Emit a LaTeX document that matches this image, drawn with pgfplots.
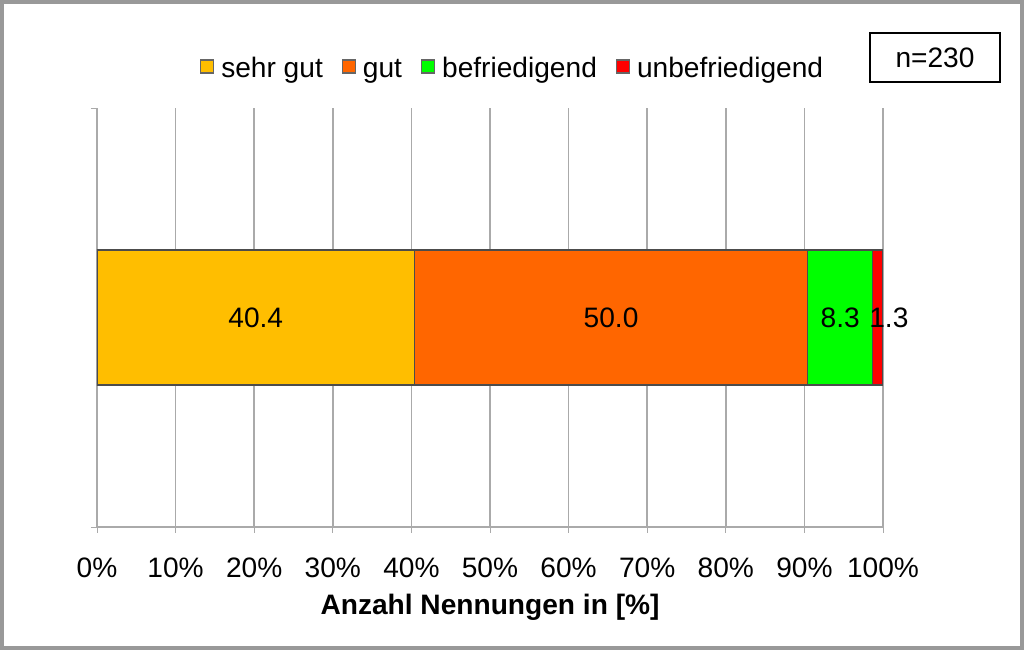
\documentclass[border=0pt]{standalone}
\usepackage{pgfplots}
\pgfplotsset{compat=1.18}
\usepackage{fontspec}
\setmainfont{Liberation Sans}

\definecolor{sehrgut}{RGB}{255,190,0}
\definecolor{gut}{RGB}{255,102,0}
\definecolor{befr}{RGB}{0,255,0}
\definecolor{unbefr}{RGB}{255,0,0}
\definecolor{gridgray}{RGB}{170,170,170}

\begin{document}
\begin{tikzpicture}
\path[use as bounding box] (0,0) rectangle (10.24,6.5);
\draw[gray!80, line width=1.2pt] (0.02,0.02) rectangle (10.22,6.48);
\begin{axis}[
    at={(0.97cm,1.23cm)}, anchor=south west,
    scale only axis, width=7.86cm, height=4.19cm,
    xbar stacked, bar width=1.35cm,
    xmin=0, xmax=100, ymin=-1, ymax=1,
    axis x line*=bottom, axis y line*=left,
    axis line style={gridgray, -},
    xtick={0,10,...,100},
    xticklabel={\pgfmathprintnumber[assume math mode=true]{\tick}\%},
    ytick={-1,1}, yticklabels={},
    tick align=outside, major tick length=0.06cm,
    tick style={gridgray},
    xmajorgrids, grid style={gridgray, line width=0.4pt},
    font=\fontsize{8pt}{9.6pt}\selectfont,
    tick label style={font=\fontsize{8pt}{9.6pt}\selectfont},
    xticklabel style={yshift=-0.12cm},
    xlabel={\textbf{Anzahl Nennungen in [\%]}},
    xlabel style={at={(axis description cs:0.5,-0.191)}, anchor=center},
    nodes near coords={\pgfmathprintnumber[fixed, precision=1, fixed zerofill, assume math mode=true]{\pgfplotspointmeta}},
    point meta=rawx,
    every node near coord/.append style={font=\fontsize{8pt}{9.6pt}\selectfont, text=black},
    legend columns=4,
    legend style={at={(0.532,1.099)}, anchor=center, draw=none, fill=none,
        font=\fontsize{8pt}{9.6pt}\selectfont,
        nodes={text height=1.6ex, text depth=0.4ex},
        /tikz/every even column/.append style={column sep=0.12cm}},
    legend image code/.code={\draw[#1, draw=black!60, line width=0.3pt] (0cm,-0.065cm) rectangle (0.13cm,0.065cm);},
]
\addplot[fill=sehrgut, draw=black!70, line width=0.4pt] coordinates {(40.4,0)};
\addplot[fill=gut, draw=black!70, line width=0.4pt] coordinates {(50.0,0)};
\addplot[fill=befr, draw=black!70, line width=0.4pt] coordinates {(8.3,0)};
\addplot[fill=unbefr, draw=black!70, line width=0.4pt,
    every node near coord/.append style={xshift=0.11cm}] coordinates {(1.3,0)};
\legend{sehr gut, gut, befriedigend, unbefriedigend}
\end{axis}
\draw[black, line width=0.8pt] (8.70,5.68) rectangle (10.00,6.17);
\node[font=\fontsize{8pt}{9.6pt}\selectfont] at (9.35,5.925) {n=230};
\end{tikzpicture}
\end{document}
